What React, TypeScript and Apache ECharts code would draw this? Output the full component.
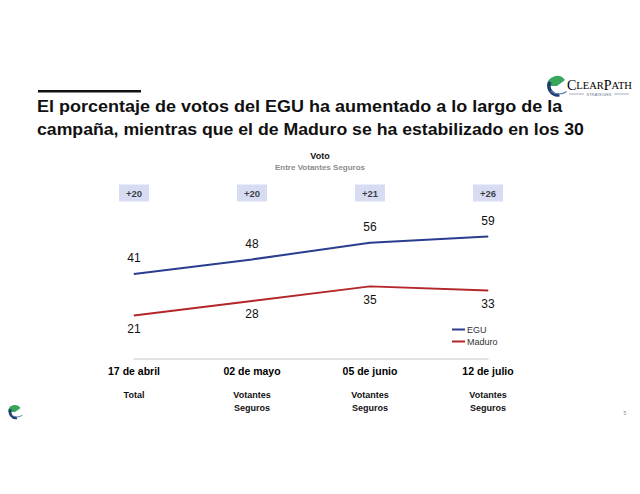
import React, { useEffect, useRef } from "react";
import * as echarts from "echarts";

const categories = ["17 de abril", "02 de mayo", "05 de junio", "12 de julio"];
const subLabels = ["Total", "Votantes\nSeguros", "Votantes\nSeguros", "Votantes\nSeguros"];
const egu = [41, 48, 56, 59];
const maduro = [21, 28, 35, 33];
const margins = ["+20", "+20", "+21", "+26"];

const BLUE = "#2b3d91";
const RED = "#b3262a";
const FONT = "Liberation Sans, Arial, sans-serif";

export default function App() {
  const ref = useRef<HTMLDivElement>(null);
  useEffect(() => {
    const chart = echarts.init(ref.current!, null, { renderer: "svg" });
    const badgeData = categories.map((_, i) => [i, 80]);
    chart.setOption({
      animation: false,
      backgroundColor: "#ffffff",
      textStyle: { fontFamily: FONT },
      grid: { left: 134, right: 152, top: 193, bottom: 135 },
      xAxis: {
        type: "category",
        data: categories,
        boundaryGap: false,
        axisLine: { lineStyle: { color: "#d9d9d9", width: 1.5 } },
        axisTick: { show: false },
        axisLabel: {
          margin: 5,
          interval: 0,
          formatter: (v: string, i: number) =>
            `{a|${v}}\n{g| }\n` + subLabels[i].split("\n").map((s) => `{b|${s}}`).join("\n"),
          rich: {
            a: { fontSize: 10.5, fontWeight: "bold", color: "#000", lineHeight: 14, fontFamily: FONT },
            g: { fontSize: 6, lineHeight: 10 },
            b: { fontSize: 9, fontWeight: "bold", color: "#111", lineHeight: 13, fontFamily: FONT },
          },
        },
      },
      yAxis: { type: "value", min: 0, max: 80, show: false, splitLine: { show: false } },
      legend: {
        orient: "vertical",
        left: 447,
        top: 320,
        itemWidth: 13,
        itemHeight: 2,
        itemGap: 3,
        icon: "rect",
        data: ["EGU", "Maduro"],
        textStyle: { fontSize: 9, color: "#333", fontFamily: FONT, padding: [0, 0, 0, -3] },
      },
      series: [
        {
          name: "EGU",
          type: "line",
          data: egu,
          symbol: "circle",
          symbolSize: 1,
          lineStyle: { color: BLUE, width: 2 },
          itemStyle: { color: BLUE },
          label: { show: true, position: "top", distance: 9, fontSize: 12, color: "#111", fontFamily: FONT },
        },
        {
          name: "Maduro",
          type: "line",
          data: maduro,
          symbol: "circle",
          symbolSize: 1,
          lineStyle: { color: RED, width: 2 },
          itemStyle: { color: RED },
          label: { show: true, position: "bottom", distance: 7, fontSize: 12, color: "#111", fontFamily: FONT },
        },
        {
          name: "margen",
          type: "scatter",
          data: badgeData,
          symbol: "rect",
          symbolSize: [30, 17],
          itemStyle: { color: "#cdd3ef" },
          label: {
            show: true,
            position: "inside",
            formatter: (p: any) => margins[p.dataIndex],
            fontSize: 9.5,
            fontWeight: "bold",
            color: "#111",
            fontFamily: FONT,
          },
          silent: true,
        },
      ],
      graphic: [
        { type: "rect", shape: { x: 38, y: 90, width: 103, height: 2.5 }, style: { fill: "#111" } },
        {
          type: "text",
          x: 37,
          y: 106,
          scaleX: 1.06,
          style: {
            text: "El porcentaje de votos del EGU ha aumentado a lo largo de la",
            font: `bold 17px ${FONT}`,
            fill: "#111",
            verticalAlign: "middle",
          },
        },
        {
          type: "text",
          x: 37,
          y: 129,
          scaleX: 1.04,
          style: {
            text: "campaña, mientras que el de Maduro se ha estabilizado en los 30",
            font: `bold 17px ${FONT}`,
            fill: "#111",
            verticalAlign: "middle",
          },
        },
        {
          type: "text",
          x: 320,
          y: 156,
          style: { text: "Voto", font: `bold 9px ${FONT}`, fill: "#111", align: "center", verticalAlign: "middle" },
        },
        {
          type: "text",
          x: 320,
          y: 167,
          style: {
            text: "Entre Votantes Seguros",
            font: `bold 8px ${FONT}`,
            fill: "#8c8c8c",
            align: "center",
            verticalAlign: "middle",
          },
        },
        // Top-right logo
        { type: "sector", shape: { cx: 557, cy: 86, r: 10, r0: 0, startAngle: Math.PI * 1.0, endAngle: Math.PI * 1.8 }, style: { fill: "#3aa65c" } },
        { type: "arc", shape: { cx: 558, cy: 86, r: 9, startAngle: Math.PI * 0.45, endAngle: Math.PI * 1.15 }, style: { stroke: "#1f3b70", lineWidth: 3.5, fill: "none" } },
        { type: "arc", shape: { cx: 559, cy: 81, r: 13, startAngle: Math.PI * 0.3, endAngle: Math.PI * 0.72 }, style: { stroke: "#5d7fa8", lineWidth: 1.2, fill: "none" } },
        {
          type: "text",
          x: 567,
          y: 85,
          style: {
            text: "{c|C}{s|LEAR}{c|P}{s|ATH}",
            verticalAlign: "middle",
            rich: {
              c: { fontSize: 14, fontFamily: "Liberation Serif, serif", color: "#1f3b70" },
              s: { fontSize: 10.5, fontFamily: "Liberation Serif, serif", color: "#1f3b70" },
            },
          },
        },
        { type: "line", shape: { x1: 569, y1: 94, x2: 584, y2: 94 }, style: { stroke: "#6b7a93", lineWidth: 0.6 } },
        { type: "line", shape: { x1: 614, y1: 94, x2: 629, y2: 94 }, style: { stroke: "#6b7a93", lineWidth: 0.6 } },
        {
          type: "text",
          x: 599,
          y: 94,
          style: { text: "STRATEGIES", font: `4px ${FONT}`, fill: "#6b7a93", align: "center", verticalAlign: "middle" },
        },
        // Bottom-left small logo
        { type: "sector", shape: { cx: 15, cy: 412, r: 7, r0: 0, startAngle: Math.PI * 1.0, endAngle: Math.PI * 1.8 }, style: { fill: "#3aa65c" } },
        { type: "arc", shape: { cx: 16, cy: 412, r: 6, startAngle: Math.PI * 0.45, endAngle: Math.PI * 1.15 }, style: { stroke: "#1f3b70", lineWidth: 2.5, fill: "none" } },
        { type: "arc", shape: { cx: 17, cy: 408, r: 9, startAngle: Math.PI * 0.3, endAngle: Math.PI * 0.72 }, style: { stroke: "#5d7fa8", lineWidth: 1, fill: "none" } },
        {
          type: "text",
          x: 625,
          y: 413,
          style: { text: "5", font: `5px ${FONT}`, fill: "#888", align: "center", verticalAlign: "middle" },
        },
      ],
    });
    return () => chart.dispose();
  }, []);
  return (
    <div
      ref={ref}
      style={{ position: "fixed", left: 0, top: 0, width: 640, height: 494 }}
    />
  );
}
